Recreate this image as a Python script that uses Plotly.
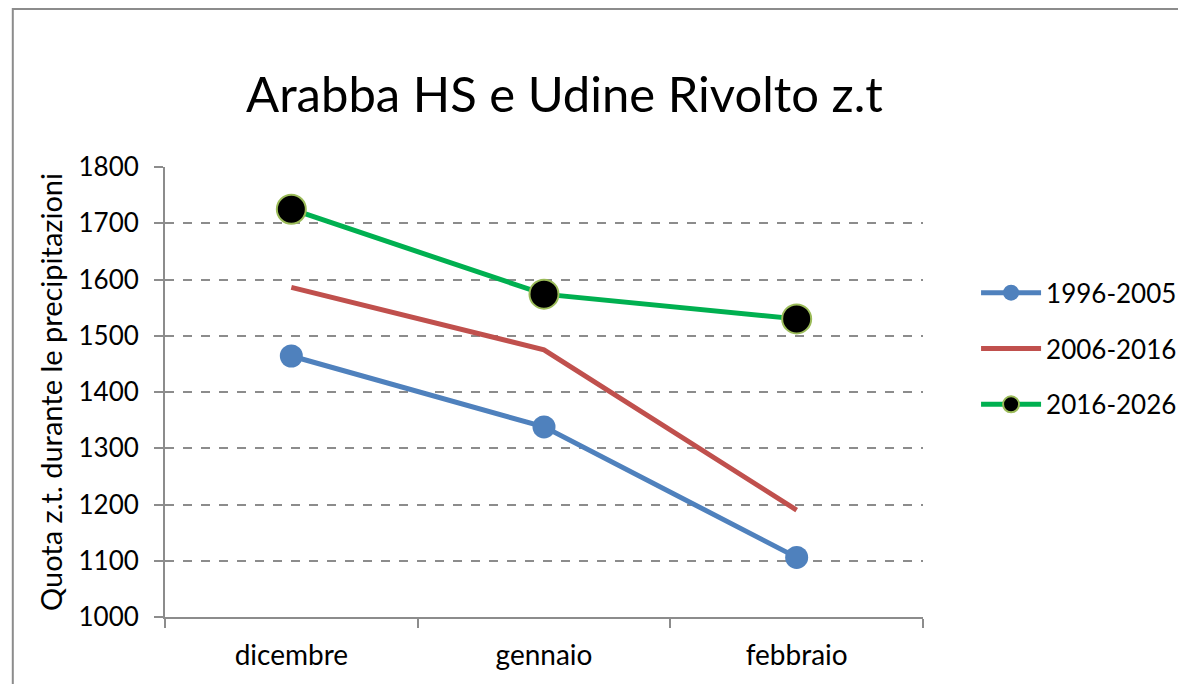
import plotly.graph_objects as go

mesi = ["dicembre", "gennaio", "febbraio"]
s1996_2005 = [1464, 1338, 1106]
s2006_2016 = [1586, 1475, 1190]
s2016_2026 = [1725, 1574, 1530]

FONT = "Lato, Calibri, sans-serif"

fig = go.Figure()
fig.add_trace(go.Scatter(
    x=mesi, y=s1996_2005, name="1996-2005", mode="lines+markers",
    legendgroup="a",
    line=dict(color="#4F81BD", width=5),
    marker=dict(size=23, color="#4F81BD"),
))
fig.add_trace(go.Scatter(
    x=mesi, y=s2006_2016, name="2006-2016", mode="lines",
    legendgroup="b",
    line=dict(color="#C0504D", width=5),
))
fig.add_trace(go.Scatter(
    x=mesi, y=s2016_2026, name="2016-2026", mode="lines+markers",
    legendgroup="c",
    line=dict(color="#00B050", width=5),
    marker=dict(size=29, color="black", line=dict(color="#9BBB59", width=2)),
))

# outer chart frame (only left and top edges visible in the picture)
fig.add_shape(type="rect", xref="paper", yref="paper",
              x0=-0.2008, x1=1.5, y0=-0.5, y1=1.351,
              line=dict(color="#8c8c8c", width=2))

fig.update_layout(
    width=1186, height=684,
    margin=dict(l=157, r=268, t=159, b=75),
    paper_bgcolor="white", plot_bgcolor="white",
    font=dict(family=FONT, color="black", size=26),
    title=dict(text="Arabba HS e Udine Rivolto z.t", x=0.4692, xanchor="center",
               y=0.873, yanchor="middle", font=dict(size=49, family=FONT)),
    showlegend=True,
    legend=dict(x=1.07, xanchor="left", y=0.596, yanchor="middle",
                font=dict(size=26), tracegroupgap=19, itemwidth=60,
                bgcolor="rgba(0,0,0,0)"),
    xaxis=dict(
        showline=True, linecolor="#8c8c8c", linewidth=2,
        ticks="outside", tickson="boundaries", ticklen=9, tickcolor="#8c8c8c",
        tickwidth=2, showgrid=False, tickfont=dict(size=28),
        range=[-0.5, 2.5], ticklabelstandoff=12,
    ),
    yaxis=dict(
        range=[1000, 1800], dtick=100,
        showline=True, linecolor="#8c8c8c", linewidth=2,
        ticks="outside", ticklen=9, tickcolor="#8c8c8c", tickwidth=2,
        showgrid=True, gridcolor="#8c8c8c", gridwidth=1.5, griddash="dash",
        zeroline=False, tickfont=dict(size=26), ticklabelstandoff=10,
        title=dict(text="Quota z.t. durante le precipitazioni",
                   font=dict(size=29), standoff=7),
    ),
)

fig.write_html("out.html")
